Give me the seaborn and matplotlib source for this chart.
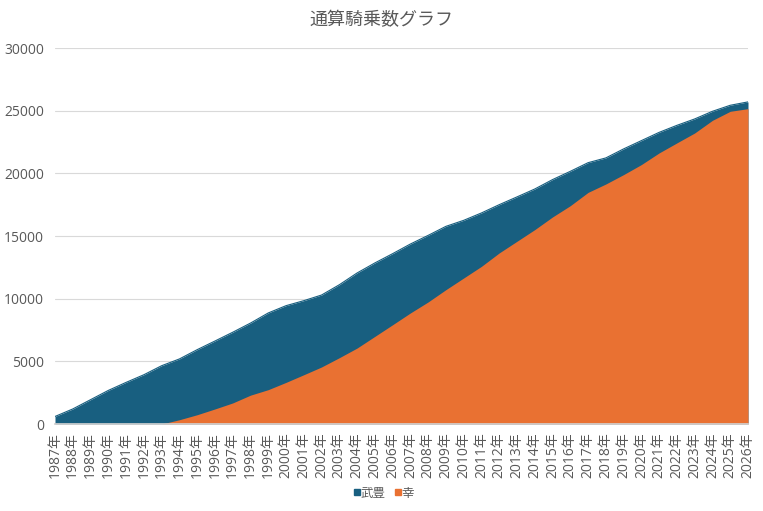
import matplotlib
matplotlib.use("Agg")
import matplotlib.pyplot as plt
import seaborn as sns
import pandas as pd
from matplotlib.lines import Line2D

# --- データ ---
years = list(range(1987, 2027))
year_labels = [f"{y}年" for y in years]

take = [600, 1200, 1940, 2680, 3320, 3930, 4650, 5190, 5930, 6620,
        7320, 8050, 8860, 9440, 9840, 10290, 11110, 12050, 12850, 13590,
        14360, 15050, 15770, 16250, 16840, 17500, 18120, 18750, 19500, 20160,
        20850, 21230, 21950, 22610, 23270, 23830, 24340, 24950, 25430, 25700]

miyuki = [0, 0, 0, 0, 0, 0, 0, 340, 740, 1200,
          1680, 2300, 2740, 3320, 3930, 4550, 5290, 6060, 6990, 7920,
          8860, 9740, 10720, 11650, 12580, 13650, 14580, 15510, 16520, 17420,
          18480, 19150, 19900, 20700, 21630, 22430, 23220, 24230, 24950, 25160]

series_names = ["武豊", "幸"]
colors = ["#185f80", "#e97132"]

df = pd.DataFrame({"idx": range(len(years)), "武豊": take, "幸": miyuki})
df_long = df.melt(id_vars="idx", var_name="騎手", value_name="騎乗数")

sns.set_theme(style="white")
plt.rcParams["font.family"] = ["Open Sans", "Noto Sans CJK JP", "DejaVu Sans"]

fig = plt.figure(figsize=(7.63, 5.11), dpi=100)
ax = fig.add_axes([55 / 763, 87 / 511, 693 / 763, 376 / 511])

sns.lineplot(data=df_long, x="idx", y="騎乗数", hue="騎手",
             palette=dict(zip(series_names, colors)), linewidth=0.8,
             legend=False, ax=ax)
for name, c in zip(series_names, colors):
    ax.fill_between(df["idx"], 0, df[name], color=c, linewidth=0, zorder=2)

ax.set_xlim(0, len(years) - 1)
ax.set_ylim(0, 30000)
ax.set_yticks(range(0, 30001, 5000))
ax.set_xticks(range(len(years)))
ax.set_xticklabels(year_labels, rotation=90, fontsize=10, color="#595959")
ax.tick_params(axis="y", labelsize=10, labelcolor="#595959", length=0, pad=8)
ax.tick_params(axis="x", length=4, color="#d0d0d0", width=0.8, pad=2)
ax.set_xlabel("")
ax.set_ylabel("")

ax.grid(axis="y", color="#d9d9d9", linewidth=0.8, zorder=0)
ax.set_axisbelow(True)
for s in ["left", "right", "top"]:
    ax.spines[s].set_visible(False)
ax.spines["bottom"].set_color("#d0d0d0")
ax.spines["bottom"].set_zorder(3)

fig.text(0.5, 1 - 20 / 511, "通算騎乗数グラフ", ha="center", va="center",
         fontsize=13, color="#595959")

handles = [Line2D([], [], marker="s", linestyle="", color=c, markersize=4.5)
           for c in colors]
fig.legend(handles, series_names, loc="center", bbox_to_anchor=(0.5, 1 - 493 / 511),
           ncol=2, frameon=False, fontsize=9, handletextpad=-0.3,
           handlelength=1.2, columnspacing=0.4, labelcolor="#595959")

fig.savefig("out.png", dpi=100)
